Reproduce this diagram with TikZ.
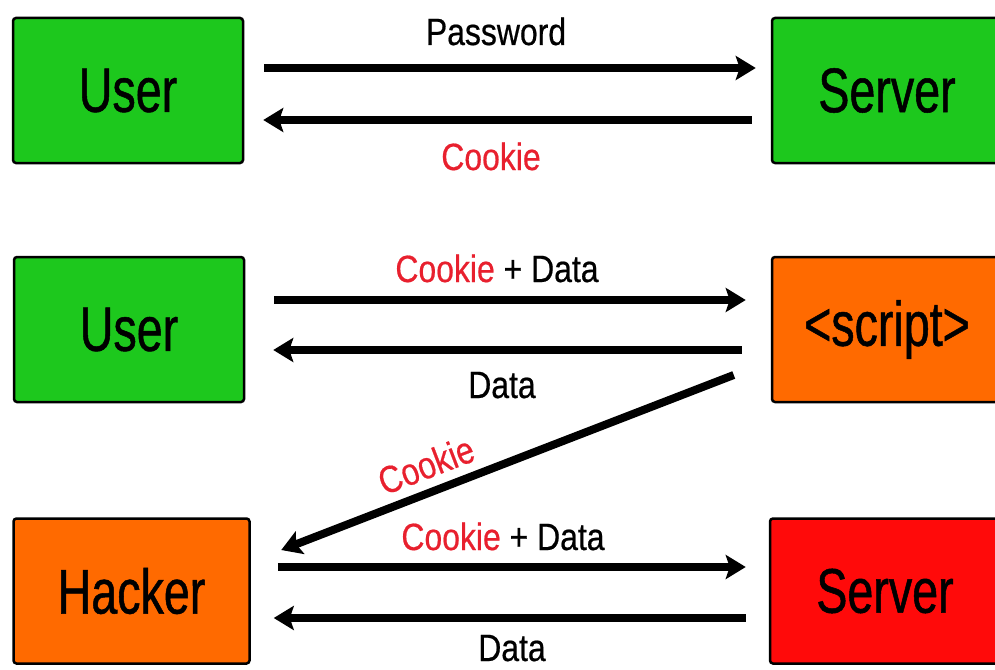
\documentclass[tikz,border=0pt]{standalone}
\usepackage{fontspec}
\usetikzlibrary{arrows.meta}
\newfontfamily\boxfont[FakeStretch=0.74,FakeBold=0.8]{Liberation Sans}
\newfontfamily\msgfont[FakeStretch=0.84,FakeBold=0.5]{Liberation Sans}
\definecolor{okgreen}{HTML}{1DC81D}
\definecolor{evilorange}{HTML}{FF6A00}
\definecolor{evilred}{HTML}{FF0A0A}
\definecolor{cookiered}{HTML}{E8202E}
\newcommand*{\cookie}{\textcolor{cookiered}{Cookie}}

\begin{document}
\begin{tikzpicture}[
        x=1pt, y=-1pt, >={Stealth[length=20pt,width=24pt,inset=4pt]},
        party/.style={draw, line width=2.5pt, rounded corners=3pt, inner sep=0pt,
          minimum width=230pt, minimum height=145pt, font={\boxfont\fontsize{63}{70}\selectfont}},
        msg/.style={font={\msgfont\fontsize{38}{44}\selectfont}, anchor=base, inner sep=0pt},
        arr/.style={line width=8pt},
        ]
        \useasboundingbox (0,0) rectangle (995,669);

        \node[party, fill=okgreen]    (user1)   at (128,90.5)  {User};
        \node[party, fill=okgreen]    (server1) at (887,90.5)  {Server};
        \node[party, fill=okgreen]    (user2)   at (129,329.5) {User};
        \node[party, fill=evilorange] (script)  at (887,329.5) {<script>};
        \node[party, fill=evilorange, minimum width=236pt] (hacker) at (131.5,591) {Hacker};
        \node[party, fill=evilred]    (server3) at (885,591)   {Server};

        \draw[arr,->, shorten <=20pt, shorten >=15pt] ([yshift=22.5pt]user1.east) -- ([yshift=22.5pt]server1.west);
        \draw[arr,<-, shorten <=19pt, shorten >=19pt] ([yshift=-29.5pt]user1.east) -- ([yshift=-29.5pt]server1.west);
        \draw[arr,->, shorten <=29pt, shorten >=25pt] ([yshift=29.5pt]user2.east) -- ([yshift=29.5pt]script.west);
        \draw[arr,<-, shorten <=28pt, shorten >=29pt] ([yshift=-20.5pt]user2.east) -- ([yshift=-20.5pt]script.west);
        \draw[arr,->] ([shift={(-37,45.5)}]script.west) -- ([shift={(30.5,-41)}]hacker.east);
        \draw[arr,->, shorten <=27pt, shorten >=23pt] ([yshift=24pt]hacker.east) -- ([yshift=24pt]server3.west);
        \draw[arr,<-, shorten <=23pt, shorten >=23pt] ([yshift=-27pt]hacker.east) -- ([yshift=-27pt]server3.west);

        \node[msg] (pwd) at (496,45)  {Password};
        \node[msg] (ck1) at (491,170) {\cookie};
        \node[msg] (cd2) at (497,282) {\cookie{} + Data};
        \node[msg] (d2)  at (502,398) {Data};
        \node[msg, anchor=center, rotate=21] (ck3) at (426,465) {\cookie};
        \node[msg] (cd3) at (503,550) {\cookie{} + Data};
        \node[msg] (d3)  at (512,661) {Data};
      \end{tikzpicture}
\end{document}
